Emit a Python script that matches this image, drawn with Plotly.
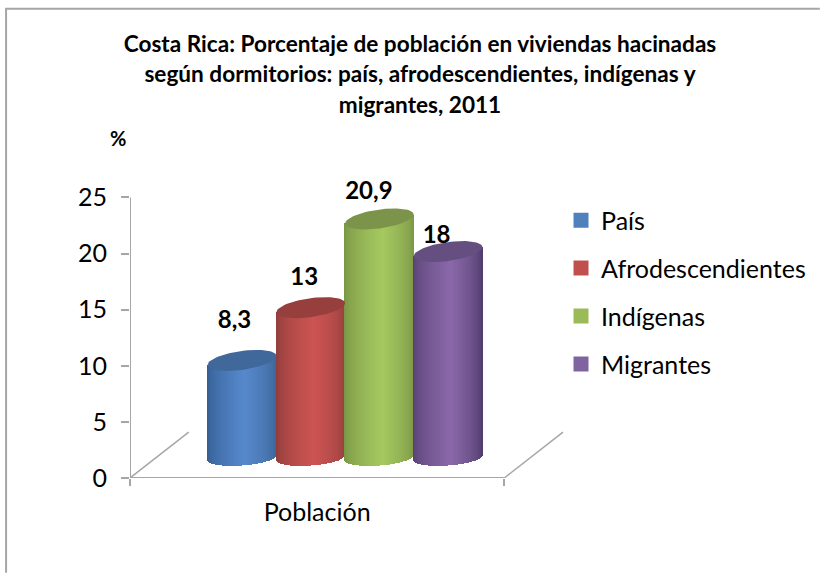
import math
import plotly.graph_objects as go

# ---- data ----
series_names = ["País", "Afrodescendientes", "Indígenas", "Migrantes"]
series_values = [8.3, 13, 20.9, 18]
value_labels = ["8,3", "13", "20,9", "18"]
category_label = "Población"
y_ticks = [0, 5, 10, 15, 20, 25]

# ---- style / geometry ----
W, H = 823, 573
AX_L, AX_R, AX_T, AX_B = 130, 506, 197, 478
PX_X = 69.0
PX_Y = (AX_B - AX_T) / 25
X0 = 242.5
xr = [(AX_L - X0) / PX_X, (AX_R - X0) / PX_X]
PLOT_R = 566
YMAX = 27
PLOT_T = AX_B - YMAX * PX_Y
x_range = [xr[0], (PLOT_R - X0) / PX_X]
FONT = "Lato"
GRAY = "#a6a6a6"


def pap_x(px):
    return (px - AX_L) / (PLOT_R - AX_L)


def pap_y(py):
    return (AX_B - py) / (AX_B - PLOT_T)


swatch = ["#4f81bd", "#c0504d", "#9bbb59", "#8064a2"]
edge_l = [(49, 92, 143), (140, 60, 58), (118, 146, 66), (84, 64, 112)]
mid = [(86, 136, 204), (204, 84, 82), (165, 200, 96), (138, 104, 170)]
edge_r = [(60, 100, 148), (150, 64, 62), (122, 150, 70), (76, 58, 104)]
cap = ["#40689a", "#963f3d", "#7c9449", "#654e80"]

# label offsets from the top of each cylinder, user-placed in the original (px)
label_dx = [-7.5, -6.5, -10.5, -11.5]
label_dy = [-38, -29, -26, -15]

A_PX, B_PX, TILT = 34.5, 9.5, 4.5
BOT_B, BOT_TILT = 8.0, 2.5
BASE_U, TOP_U = 20.5 / PX_Y, 24.5 / PX_Y
N = 70


def shade(i, t):
    if t < 0.55:
        f = (t / 0.55) ** 0.6
        a, b = edge_l[i], mid[i]
    else:
        f = ((1 - t) / 0.45) ** 0.6
        a, b = edge_r[i], mid[i]
    return "rgb(%d,%d,%d)" % tuple(round(a[k] + (b[k] - a[k]) * f) for k in range(3))


fig = go.Figure()

# cylinder bodies: bars made of thin shaded strips
for i, v in enumerate(series_values):
    xs, bases, heights, colors = [], [], [], []
    for s in range(N):
        t = (s + 0.5) / N
        d = 2 * t - 1
        low = BASE_U + (-BOT_B * math.sqrt(1 - d * d) + BOT_TILT * d) / PX_Y
        top = v + TOP_U + TILT * d / PX_Y
        xs.append(i + d * A_PX / PX_X)
        bases.append(low)
        heights.append(top - low)
        colors.append(shade(i, t))
    fig.add_trace(go.Bar(
        x=xs, y=heights, base=bases, width=[2.2 * A_PX / PX_X / N * 1.2] * N,
        marker=dict(color=colors, line=dict(width=0)),
        showlegend=False, hoverinfo="skip",
    ))

# legend entries
for name, col in zip(series_names, swatch):
    fig.add_trace(go.Bar(
        x=[None], y=[None], name=name, legendgroup=name,
        marker=dict(color=col, line=dict(color=col, width=3)),
    ))

# cylinder caps
for i, v in enumerate(series_values):
    px, py = [], []
    for k in range(73):
        th = 2 * math.pi * k / 72
        c, s = math.cos(th), math.sin(th)
        px.append(i + A_PX * c / PX_X)
        py.append(v + TOP_U + (B_PX * s + TILT * c) / PX_Y)
    fig.add_trace(go.Scatter(
        x=px, y=py, mode="lines", fill="toself", fillcolor=cap[i],
        line=dict(width=0), showlegend=False, hoverinfo="skip",
    ))

# floor diagonals
DX, DY = 59 / PX_X, 46 / PX_Y
for xs0 in xr:
    fig.add_trace(go.Scatter(
        x=[xs0, xs0 + DX], y=[0, DY], mode="lines", cliponaxis=False,
        line=dict(color=GRAY, width=1.5), showlegend=False, hoverinfo="skip",
    ))

# axis lines, stopping at 25 and at the end of the floor
fig.add_trace(go.Scatter(
    x=[xr[0], xr[0], xr[1]], y=[y_ticks[-1], 0, 0], mode="lines", cliponaxis=False,
    line=dict(color=GRAY, width=2), showlegend=False, hoverinfo="skip",
))

# value labels
fig.add_trace(go.Scatter(
    x=[i + dx / PX_X for i, dx in enumerate(label_dx)],
    y=[v + TOP_U - dy / PX_Y for v, dy in zip(series_values, label_dy)],
    mode="text", text=value_labels, textposition="middle center",
    textfont=dict(family=FONT, size=24, color="black", weight="bold"),
    cliponaxis=False, showlegend=False, hoverinfo="skip",
))

title_lines = [
    "Costa Rica: Porcentaje de población en viviendas hacinadas",
    "según dormitorios: país, afrodescendientes, indígenas y",
    "migrantes, 2011",
]
title = "<br>".join('<span style="font-size:22.6px">%s</span>' % t for t in title_lines)

fig.update_layout(
    width=W, height=H, autosize=False,
    margin=dict(l=AX_L, r=W - PLOT_R, t=PLOT_T, b=H - AX_B, pad=0),
    paper_bgcolor="white", plot_bgcolor="rgba(0,0,0,0)",
    barmode="overlay", bargap=0,
    font=dict(family=FONT, color="black"),
    title=dict(text=title, x=420 / W, xanchor="center", y=1 - 51.5 / H, yanchor="middle",
               font=dict(family=FONT, size=23.5, color="black", weight="bold")),
    xaxis=dict(range=x_range, tickmode="array", tickvals=[(xr[0] + xr[1]) / 2], ticktext=[category_label],
               ticks="", showgrid=False, zeroline=False, showline=False,
               tickfont=dict(family=FONT, size=25, color="black"), ticklabelstandoff=17,
               minor=dict(tickmode="array", tickvals=xr, ticks="outside", ticklen=7, tickwidth=2, tickcolor=GRAY, showgrid=False)),
    yaxis=dict(range=[0, YMAX], tickmode="array", tickvals=y_ticks, ticks="outside", ticklen=8, tickwidth=2,
               tickcolor=GRAY, showgrid=False, zeroline=False, showline=False, ticklabelstandoff=9,
               tickfont=dict(family=FONT, size=25, color="black")),
    legend=dict(x=pap_x(563), xanchor="left", y=pap_y(197), yanchor="top", tracegroupgap=12.4,
                font=dict(family=FONT, size=25, color="black"), bgcolor="rgba(0,0,0,0)"),
    annotations=[dict(text="<b>%</b>", xref="paper", yref="paper", x=pap_x(118), y=pap_y(137),
                      xanchor="center", yanchor="middle", showarrow=False,
                      font=dict(family=FONT, size=20, color="black"))],
    shapes=[dict(type="path", xref="paper", yref="paper",
                 path="M %f,%f L %f,%f L %f,%f" % (pap_x(5.5), pap_y(H), pap_x(5.5), pap_y(8), pap_x(W), pap_y(8)),
                 line=dict(color="#a6a6a6", width=2))],
)
fig.write_html("out.html", config={"displayModeBar": False}, post_script="document.body.style.margin='0';")
